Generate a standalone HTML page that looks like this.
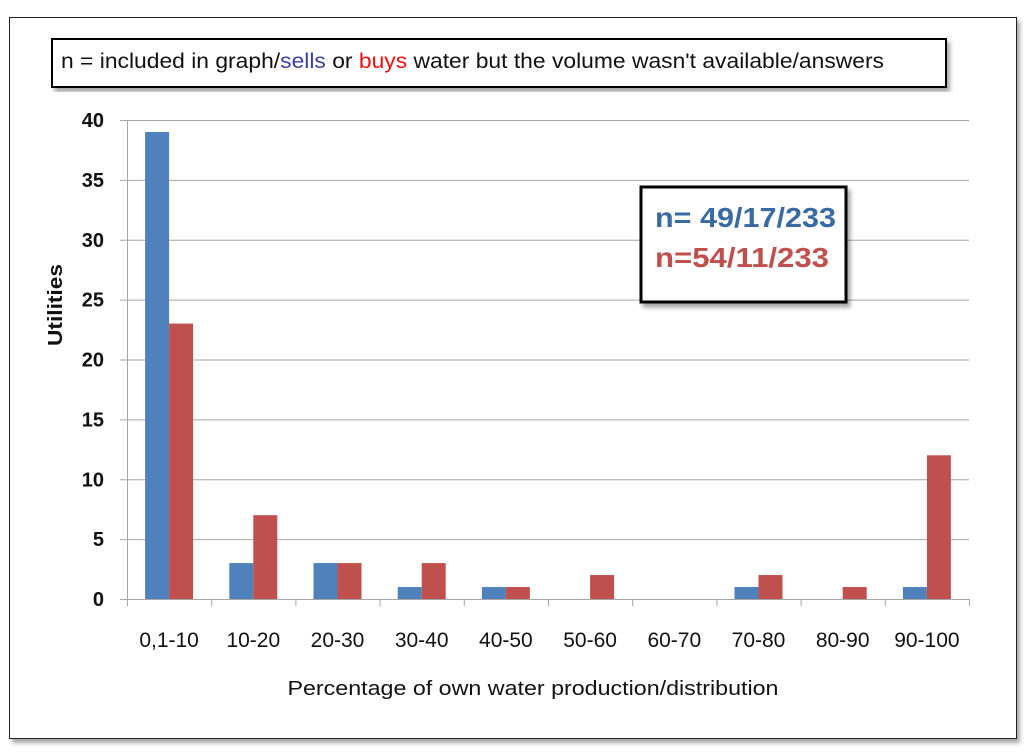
<!DOCTYPE html>
<html><head><meta charset="utf-8">
<style>
body{margin:0;width:1024px;height:747px;background:#fff;overflow:hidden;font-family:"Liberation Sans",sans-serif;}
svg text{font-family:"Liberation Sans",sans-serif;}
</style></head>
<body>
<svg id="chart" width="1024" height="747">
  <defs>
    <filter id="sh" x="-5%" y="-5%" width="110%" height="115%"><feDropShadow dx="3" dy="4" stdDeviation="2" flood-color="#000" flood-opacity="0.35"/></filter>
  </defs>
  <rect x="9.5" y="17.5" width="1007" height="721" fill="#fff" stroke="#222" stroke-width="1" filter="url(#sh)"/>
  <g id="grid"></g>
  <g id="bars"></g>
  <g id="axes"></g>
  <rect x="52" y="39" width="894" height="48" fill="#fff" stroke="#000" stroke-width="2" filter="url(#sh)"/>
  <text x="61" y="68" font-size="21" fill="#111" textLength="823" lengthAdjust="spacingAndGlyphs">n = included in graph/<tspan fill="#3b3fa0">sells</tspan> or <tspan fill="#ee1111">buys</tspan> water but the volume wasn't available/answers</text>
  <rect x="641" y="187" width="205" height="115" fill="#fff" stroke="#000" stroke-width="3" filter="url(#sh)"/>
  <text x="655" y="227" font-size="28" font-weight="bold" fill="#3a6aa3" textLength="181" lengthAdjust="spacingAndGlyphs">n= 49/17/233</text>
  <text x="655" y="267" font-size="28" font-weight="bold" fill="#c0504d" textLength="174" lengthAdjust="spacingAndGlyphs">n=54/11/233</text>
  <text x="62" y="305" font-size="20" font-weight="bold" fill="#111" text-anchor="middle" textLength="82" lengthAdjust="spacingAndGlyphs" transform="rotate(-90 62 305)">Utilities</text>
  <text x="533" y="695" font-size="20" fill="#111" text-anchor="middle" textLength="491" lengthAdjust="spacingAndGlyphs">Percentage of own water production/distribution</text>
</svg>
<script>
const categories=["0,1-10","10-20","20-30","30-40","40-50","50-60","60-70","70-80","80-90","90-100"];
const sells=[39,3,3,1,1,0,0,1,0,1];
const buys=[23,7,3,3,1,2,0,2,1,12];
const yTicks=[0,5,10,15,20,25,30,35,40];
const NS="http://www.w3.org/2000/svg";
const x0=127,x1=969,y0=599,y1=120,yMax=40;
const cw=(x1-x0)/categories.length;
function y(v){return y0-(v/yMax)*(y0-y1);}
function xc(i){return x0+i*cw;}
function mk(tag,attrs,parent){const e=document.createElementNS(NS,tag);for(const k in attrs)e.setAttribute(k,attrs[k]);document.getElementById(parent).appendChild(e);return e;}
yTicks.forEach(t=>{
  const l=mk('line',{x1:120,x2:x1,y1:y(t)+0.5,y2:y(t)+0.5,stroke:'#a6a6a6','stroke-width':1},'grid');
  
  
  const tx=mk('text',{x:104,y:y(t)+7,'font-size':20,'font-weight':'bold','text-anchor':'end',fill:'#111'},'axes');
  tx.textContent=t;
  
  
});
const bw=cw*0.285;
categories.forEach((c,i)=>{
  const bx=xc(i)+cw*0.215;
  if(sells[i]>0){
    const r=mk('rect',{x:bx,y:y(sells[i]),width:bw,height:y0-y(sells[i]),fill:'#4f81bd'},'bars');
    
    
  }
  if(buys[i]>0){
    const r=mk('rect',{x:bx+bw,y:y(buys[i]),width:bw,height:y0-y(buys[i]),fill:'#c0504d'},'bars');
    
    
  }
  const tx=mk('text',{x:xc(i)+cw/2,y:647,'font-size':21,'text-anchor':'middle',fill:'#111'},'axes');
  tx.textContent=c;
  
  
});
for(let i=0;i<=categories.length;i++){
  const t=mk('line',{x1:xc(i)+0.5,x2:xc(i)+0.5,y1:y0,y2:y0+7,stroke:'#a6a6a6'},'axes');
  
  
}
const ya=mk('line',{x1:x0+0.5,x2:x0+0.5,y1:y1,y2:y0,stroke:'#a6a6a6'},'axes');


</script>
</body></html>
